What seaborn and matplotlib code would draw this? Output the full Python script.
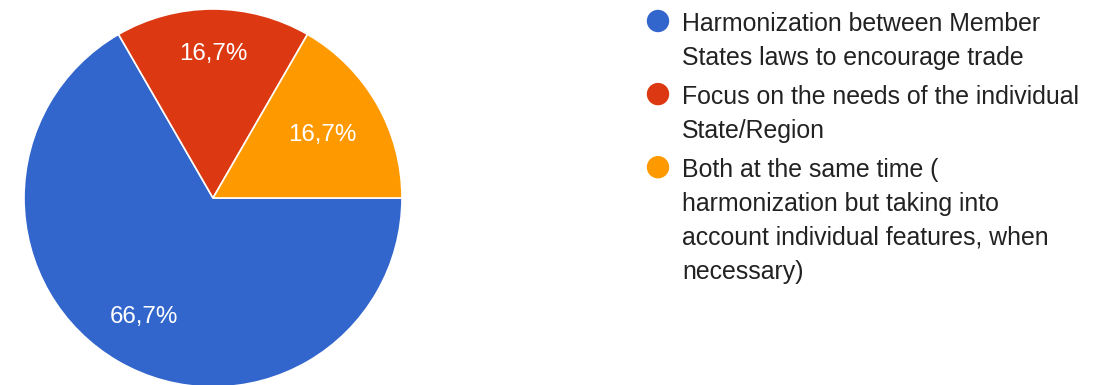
import matplotlib
matplotlib.use("Agg")
import matplotlib.pyplot as plt
import seaborn as sns

# ---- data ----
categories = [
    "Harmonization between Member\nStates laws to encourage trade",
    "Focus on the needs of the individual\nState/Region",
    "Both at the same time (\nharmonization but taking into\naccount individual features, when\nnecessary)",
]
counts = [4, 1, 1]
colors = ["#3366cc", "#dc3912", "#ff9900"]

sns.set_theme(style="white")
plt.rcParams["font.family"] = ["Liberation Sans", "DejaVu Sans"]
palette = sns.color_palette(colors)

W, H = 1100, 385
fig = plt.figure(figsize=(W / 100, H / 100), dpi=100)
fig.patch.set_facecolor("white")

# pie axes: centre (213,198) px, radius 189 px
cx, cy, r = 213, 198, 189
ax = fig.add_axes([(cx - r) / W, (H - cy - r) / H, 2 * r / W, 2 * r / H])
wedges, texts, autotexts = ax.pie(
    counts,
    colors=palette,
    startangle=0,
    counterclock=False,
    autopct=lambda p: f"{p:.1f}%".replace(".", ","),
    pctdistance=0.72,
    wedgeprops=dict(edgecolor="white", linewidth=1.2),
    textprops=dict(color="white", fontsize=17.4),
)
ax.set_xlim(-1, 1)
ax.set_ylim(-1, 1)
ax.set_aspect("equal")
for w in wedges:
    w.set_clip_on(False)
# radial placement of the labels (Google-style)
radial = [0.73, 0.76, 0.67]
for t, f in zip(autotexts, radial):
    x, y = t.get_position()
    t.set_position((x / 0.72 * f, y / 0.72 * f))

# legend (manual, circles aligned with first line)
lax = fig.add_axes([0, 0, 1, 1])
lax.set_xlim(0, W)
lax.set_ylim(H, 0)
lax.axis("off")
lax.patch.set_alpha(0)

line_h = 33.8
entry_gap = 5.5
base = 31.0
text_x = 682
marker_x = 658
for lab, col in zip(categories, palette):
    lines = lab.split("\n")
    lax.scatter([marker_x], [base - 10], s=260, color=col, edgecolor="none", zorder=3)
    for i, ln in enumerate(lines):
        lax.text(text_x, base + i * line_h, ln, fontsize=17.9, color="#222222",
                 va="baseline", ha="left")
    base += len(lines) * line_h + entry_gap

fig.savefig("out.png", dpi=100, facecolor="white")
